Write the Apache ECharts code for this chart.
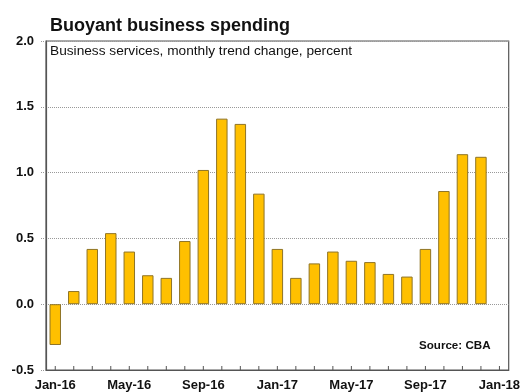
<!DOCTYPE html>
<html>
<head>
<meta charset="utf-8">
<script src="https://cdn.jsdelivr.net/npm/echarts@6/dist/echarts.min.js"></script>
<style>
  html, body { margin: 0; padding: 0; background: #fff; }
  #chart { width: 523px; height: 392px; }
</style>
</head>
<body>
<div id="chart"></div>
<script>
// Months shown on the category axis (Jan-18 is an empty slot at the end)
var months = [
  'Jan-16','Feb-16','Mar-16','Apr-16','May-16','Jun-16','Jul-16','Aug-16',
  'Sep-16','Oct-16','Nov-16','Dec-16',
  'Jan-17','Feb-17','Mar-17','Apr-17','May-17','Jun-17','Jul-17','Aug-17',
  'Sep-17','Oct-17','Nov-17','Dec-17','Jan-18'
];

// Business services, monthly trend change (%)
var trendChange = [
  -0.31, 0.10, 0.42, 0.54, 0.40, 0.22, 0.20, 0.48,
  1.02, 1.41, 1.37, 0.84,
  0.42, 0.20, 0.31, 0.40, 0.33, 0.32, 0.23, 0.21,
  0.42, 0.86, 1.14, 1.12, null
];

// Value-axis ticks
var yMin = -0.5, yMax = 2.0, yStep = 0.5;

var FONT = 'Liberation Sans, Arial, sans-serif';

var chart = echarts.init(document.getElementById('chart'), null, { renderer: 'canvas' });

// Short upward tick marks along the bottom frame, one per month
function renderMonthTick(params, api) {
  var p = api.coord([api.value(0), yMin]);
  return {
    type: 'line',
    shape: { x1: p[0], y1: p[1], x2: p[0], y2: p[1] - 4 },
    style: { stroke: '#555', lineWidth: 1 }
  };
}

chart.setOption({
  animation: false,
  backgroundColor: '#ffffff',
  title: {
    text: 'Buoyant business spending',
    left: 45,
    top: 12,
    textStyle: { fontFamily: FONT, fontSize: 18, fontWeight: 'bold', color: '#111', lineHeight: 18 }
  },
  grid: {
    left: 46, right: 12.5, top: 41, bottom: 21,
    show: true,
    borderColor: '#555',
    borderWidth: 1.2,
    containLabel: false
  },
  xAxis: {
    type: 'category',
    data: months,
    boundaryGap: true,
    axisLine: { show: true, onZero: false, lineStyle: { color: '#555', width: 1.2 } },
    axisTick: { show: false },
    axisLabel: {
      show: true, interval: 3, margin: 9,
      fontFamily: FONT, fontSize: 13, fontWeight: 'bold', color: '#111'
    },
    splitLine: { show: false }
  },
  yAxis: {
    type: 'value',
    min: yMin, max: yMax, interval: yStep,
    axisLine: { show: true, lineStyle: { color: '#555', width: 1.2 } },
    axisTick: { show: true, length: 6, lineStyle: { color: '#999', type: 'dotted' } },
    axisLabel: {
      margin: 12,
      fontFamily: FONT, fontSize: 13, fontWeight: 'bold', color: '#111',
      formatter: function (v) { return v.toFixed(1); }
    },
    splitLine: { show: true, lineStyle: { color: '#999', type: 'dotted', width: 1 } }
  },
  series: [
    {
      type: 'bar',
      data: trendChange,
      barWidth: '62%',
      itemStyle: { color: '#FFC000', borderColor: '#8f7426', borderWidth: 1 }
    },
    {
      type: 'custom',
      silent: true,
      renderItem: renderMonthTick,
      data: months.map(function (m) { return [m]; }),
      z: 5
    }
  ],
  graphic: [
    {
      type: 'text', left: 50, top: 44,
      style: {
        text: 'Business services, monthly trend change, percent',
        font: 'normal 13.7px ' + FONT, fill: '#111'
      }
    },
    {
      type: 'text', left: 419, top: 340,
      style: {
        text: 'Source: CBA',
        font: 'bold 11.6px ' + FONT, fill: '#111'
      }
    }
  ]
});
</script>
</body>
</html>
